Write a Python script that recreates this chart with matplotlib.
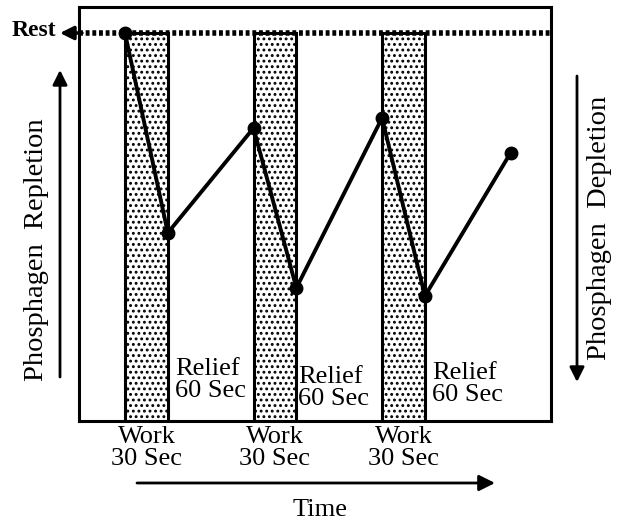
import numpy as np
import matplotlib.pyplot as plt
from matplotlib.transforms import blended_transform_factory

plt.rcParams['font.family'] = ['Liberation Serif', 'DejaVu Serif']
plt.rcParams['hatch.linewidth'] = 1.3

# time in seconds, phosphagen level in % of rest
work_starts = [0, 90, 180]
work_len = 30
rest_level = 100
times = [0, 30, 90, 120, 180, 210, 270]
levels = [100, 48.5, 75.5, 34.3, 78.1, 32.2, 69.1]
work_label = "Work\n30 Sec"
relief_label = "Relief\n60 Sec"
relief_offsets = [5, 1, 5]
relief_y = [10.5, 8.5, 9.5]

W, H = 623, 523
fig = plt.figure(figsize=(W / 100, H / 100), dpi=100)
ax = fig.add_axes([79 / W, 1 - 421 / H, 472 / W, 414 / H])
ax.set_xlim(-32.2, 298.3)
ax.set_ylim(0, 106.7)
ax.set_xticks([])
ax.set_yticks([])
for s in ax.spines.values():
    s.set_linewidth(2.2)

def fpx(x, y):
    return (x / W, 1 - y / H)

# work periods
for x0 in work_starts:
    ax.bar(x0, rest_level, width=work_len, align='edge', facecolor='white',
           edgecolor='black', hatch='...', linewidth=2.2, zorder=1)

# rest dotted line
ax.plot([-32.2, 298.3], [rest_level, rest_level], color='black', lw=4,
        linestyle=(0, (0.7, 0.5)), zorder=3, clip_on=False)

# phosphagen curve
ax.plot(times, levels, color='black', lw=2.8, marker='o', markersize=9,
        zorder=4, clip_on=False)

# labels below work bars
tr = blended_transform_factory(ax.transData, ax.transAxes)
for x0 in work_starts:
    ax.text(x0 + work_len / 2, -0.012, work_label, transform=tr, ha='center',
            va='top', fontsize=19, linespacing=1.02)

for x0, off, yy in zip(work_starts, relief_offsets, relief_y):
    ax.text(x0 + work_len + off, yy, relief_label, ha='left', va='center',
            fontsize=19, linespacing=1.0)

# Rest label and arrow
fig.text(*fpx(12, 31), "Rest", fontsize=17, fontweight='bold', ha='left', va='center')
ax.annotate("", xy=fpx(60, 33), xytext=fpx(82, 33), xycoords='figure fraction',
            textcoords='figure fraction',
            arrowprops=dict(arrowstyle='-|>', color='black', lw=2.5,
                            mutation_scale=20, shrinkA=0, shrinkB=0))

# side arrows
ax.annotate("", xy=fpx(60, 70), xytext=fpx(60, 377), xycoords='figure fraction',
            textcoords='figure fraction',
            arrowprops=dict(arrowstyle='-|>', color='black', lw=2,
                            mutation_scale=22, shrinkA=0, shrinkB=0))
ax.annotate("", xy=fpx(577, 382), xytext=fpx(577, 76), xycoords='figure fraction',
            textcoords='figure fraction',
            arrowprops=dict(arrowstyle='-|>', color='black', lw=2,
                            mutation_scale=22, shrinkA=0, shrinkB=0))
fig.text(*fpx(37, 250), "Phosphagen  Repletion", rotation=90, fontsize=20.5,
         ha='center', va='center')
fig.text(*fpx(600, 228), "Phosphagen  Depletion", rotation=90, fontsize=20.5,
         ha='center', va='center')

# time arrow
ax.annotate("", xy=fpx(495, 483), xytext=fpx(137, 483), xycoords='figure fraction',
            textcoords='figure fraction',
            arrowprops=dict(arrowstyle='-|>', color='black', lw=2,
                            mutation_scale=24, shrinkA=0, shrinkB=0))
fig.text(*fpx(320, 510), "Time", fontsize=19, ha='center', va='center')

fig.savefig("out.png", dpi=100)
